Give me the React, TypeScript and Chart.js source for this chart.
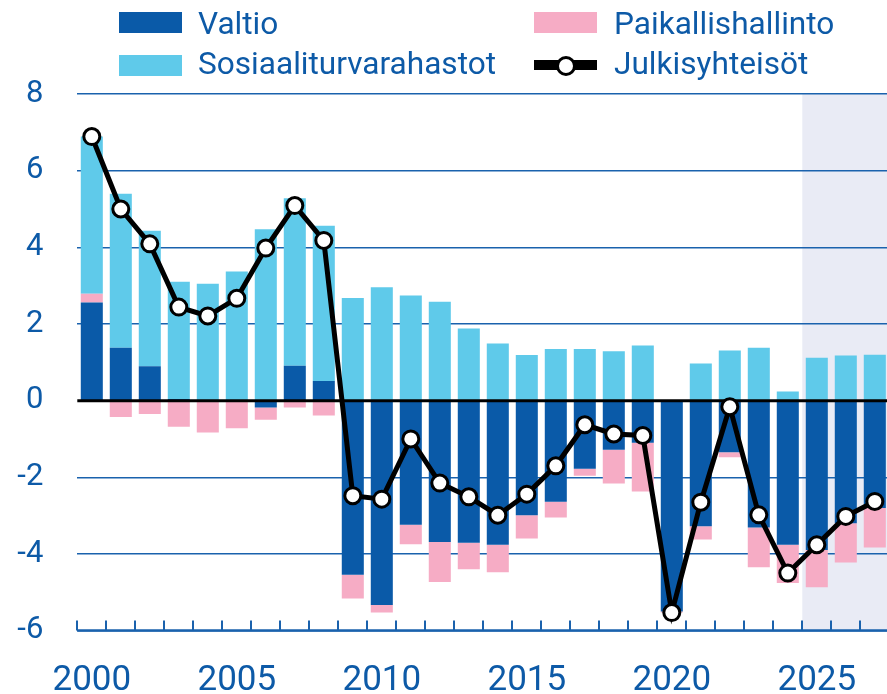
import React, { useEffect, useRef } from 'react';
import { Chart, registerables } from 'chart.js';

Chart.register(...registerables);

const years = ['2000','2001','2002','2003','2004','2005','2006','2007','2008','2009','2010','2011','2012','2013','2014','2015','2016','2017','2018','2019','2020','2021','2022','2023','2024','2025','2026','2027'];
const valtio = [2.56, 1.38, 0.90, 0.04, -0.02, 0.0, -0.18, 0.91, 0.51, -4.54, -5.33, -3.24, -3.69, -3.71, -3.76, -2.99, -2.64, -1.78, -1.28, -1.10, -5.50, -3.28, -1.35, -3.31, -3.76, -3.90, -3.20, -2.80];
const paikallishallinto = [0.23, -0.43, -0.35, -0.68, -0.81, -0.72, -0.32, -0.18, -0.39, -0.62, -0.20, -0.51, -1.04, -0.69, -0.72, -0.61, -0.41, -0.18, -0.88, -1.27, -0.03, -0.34, -0.13, -1.04, -1.00, -0.97, -1.02, -1.03];
const sosiaaliturvarahastot = [4.10, 4.02, 3.53, 3.06, 3.05, 3.37, 4.47, 4.37, 4.05, 2.68, 2.96, 2.74, 2.58, 1.88, 1.49, 1.19, 1.35, 1.35, 1.29, 1.44, 0.0, 0.97, 1.31, 1.38, 0.24, 1.12, 1.18, 1.20];
const julkisyhteisot = [6.89, 5.00, 4.09, 2.44, 2.21, 2.67, 3.98, 5.09, 4.18, -2.48, -2.57, -1.00, -2.15, -2.51, -2.99, -2.44, -1.70, -0.63, -0.87, -0.91, -5.53, -2.65, -0.16, -2.98, -4.50, -3.76, -3.02, -2.63];
const forecastStart = '2025';
const labeledYears = ['2000', '2005', '2010', '2015', '2020', '2025'];
const yMin = -6;
const yMax = 8;
const yStep = 2;

const C_DARK = '#0a5aa8';
const C_LIGHT = '#5fcaea';
const C_PINK = '#f6acc5';
const C_TEXT = '#0d5aa7';
const C_GRID = '#1a62ad';
const C_SHADE = '#e9ebf5';

const FONT = 'Roboto, "Noto Sans", sans-serif';
const CANVAS_W = 892;
const CANVAS_H = 694;
const TARGET_RIGHT = 889.3;

const decorPlugin = {
  id: 'decor',
  beforeDraw(chart: any) {
    const { ctx, chartArea, scales } = chart;
    const x = scales.x;
    const idx = years.indexOf(forecastStart);
    const half = (x.getPixelForValue(1) - x.getPixelForValue(0)) / 2;
    const left = x.getPixelForValue(idx) - half;
    ctx.save();
    ctx.fillStyle = C_SHADE;
    ctx.fillRect(left, chartArea.top, chartArea.right - left, chartArea.bottom - chartArea.top);
    ctx.restore();
  },
  beforeDatasetDraw(chart: any, args: any) {
    if (args.meta.type !== 'line') return;
    const { ctx, chartArea, scales } = chart;
    const y0 = scales.y.getPixelForValue(0);
    ctx.save();
    ctx.strokeStyle = '#000';
    ctx.lineWidth = 3;
    ctx.beginPath();
    ctx.moveTo(chartArea.left, y0);
    ctx.lineTo(chartArea.right, y0);
    ctx.stroke();
    ctx.restore();
  },
  afterDraw(chart: any) {
    const { ctx, chartArea, scales } = chart;
    const x = scales.x;
    const half = (x.getPixelForValue(1) - x.getPixelForValue(0)) / 2;
    ctx.save();
    ctx.strokeStyle = C_GRID;
    ctx.lineWidth = 2.5;
    ctx.beginPath();
    ctx.moveTo(chartArea.left, chartArea.bottom);
    ctx.lineTo(chartArea.right, chartArea.bottom);
    ctx.stroke();
    ctx.lineWidth = 2;
    ctx.beginPath();
    for (let i = 0; i <= years.length; i++) {
      const px = Math.round(x.getPixelForValue(0) - half + i * 2 * half);
      ctx.moveTo(px, chartArea.bottom);
      ctx.lineTo(px, chartArea.bottom - 10);
    }
    ctx.stroke();
    ctx.restore();
  },
};

function Legend() {
  const textStyle: React.CSSProperties = {
    position: 'absolute',
    fontFamily: FONT,
    fontSize: 31.6,
    lineHeight: 1,
    color: C_TEXT,
    whiteSpace: 'nowrap',
  };
  const box = (left: number, top: number, color: string): React.CSSProperties => ({
    position: 'absolute', left, top, width: 63, height: 21, background: color,
  });
  return (
    <div style={{ position: 'absolute', left: 0, top: 0, width: 887, height: 90, pointerEvents: 'none' }}>
      <div style={box(119, 12, C_DARK)} />
      <div style={{ ...textStyle, left: 198, top: 8 }}>Valtio</div>
      <div style={box(119, 55, C_LIGHT)} />
      <div style={{ ...textStyle, left: 198, top: 47.5 }}>Sosiaaliturvarahastot</div>
      <div style={box(534, 12, C_PINK)} />
      <div style={{ ...textStyle, left: 614, top: 8 }}>Paikallishallinto</div>
      <div style={{ position: 'absolute', left: 534, top: 60, width: 63, height: 10, background: '#000' }} />
      <div style={{ position: 'absolute', left: 556, top: 55.5, width: 14, height: 14, borderRadius: '50%', background: '#fff', border: '3px solid #000' }} />
      <div style={{ ...textStyle, left: 614, top: 47.5 }}>Julkisyhteisöt</div>
    </div>
  );
}

export default function App() {
  const canvasRef = useRef<HTMLCanvasElement | null>(null);

  useEffect(() => {
    document.body.style.margin = '0';
    const canvas = canvasRef.current;
    if (!canvas) return;
    const chart: any = new Chart(canvas, {
      type: 'bar',
      data: {
        labels: years,
        datasets: [
          {
            type: 'line',
            label: 'Julkisyhteisöt',
            data: julkisyhteisot,
            stack: 'line',
            order: 0,
            borderColor: '#000',
            borderWidth: 5,
            pointRadius: 8,
            pointHoverRadius: 8,
            pointBorderWidth: 3,
            pointBackgroundColor: '#fff',
            pointBorderColor: '#000',
            tension: 0,
            clip: false,
          } as any,
          {
            label: 'Valtio',
            data: valtio,
            stack: 'bars',
            order: 1,
            backgroundColor: C_DARK,
            barPercentage: 0.76,
            categoryPercentage: 1,
          },
          {
            label: 'Paikallishallinto',
            data: paikallishallinto,
            stack: 'bars',
            order: 1,
            backgroundColor: C_PINK,
            barPercentage: 0.76,
            categoryPercentage: 1,
          },
          {
            label: 'Sosiaaliturvarahastot',
            data: sosiaaliturvarahastot,
            stack: 'bars',
            order: 1,
            backgroundColor: C_LIGHT,
            barPercentage: 0.76,
            categoryPercentage: 1,
          },
        ],
      },
      options: {
        animation: false,
        responsive: false,
        maintainAspectRatio: false,
        devicePixelRatio: 1,
        layout: { autoPadding: false, padding: { top: 94, right: CANVAS_W - TARGET_RIGHT, left: 0, bottom: 0 } },
        plugins: {
          legend: { display: false },
          tooltip: { enabled: false },
        },
        scales: {
          x: {
            stacked: true,
            offset: true,
            grid: { display: false, drawTicks: false },
            border: { display: false },
            ticks: {
              autoSkip: false,
              maxRotation: 0,
              padding: 30,
              color: C_TEXT,
              font: { family: FONT, size: 35 },
              callback: (_v: any, i: number) => (labeledYears.includes(years[i]) ? years[i] : ''),
            },
            afterFit: (s: any) => {
              s.height = 694 - 630.6;
              s.paddingLeft = 0;
              s.paddingRight = 0;
            },
          },
          y: {
            stacked: true,
            min: yMin,
            max: yMax,
            ticks: {
              stepSize: yStep,
              padding: 34,
              color: C_TEXT,
              font: { family: FONT, size: 31 },
            },
            grid: {
              drawTicks: false,
              color: (c: any) => (c.tick && c.tick.value === 0 ? 'rgba(0,0,0,0)' : C_GRID),
              lineWidth: 1.5,
            },
            border: { display: false },
            afterFit: (s: any) => {
              s.width = 77.3;
              s.paddingTop = 0;
              s.paddingBottom = 0;
            },
          },
        },
      },
      plugins: [decorPlugin],
    });
    return () => chart.destroy();
  }, []);

  return (
    <div style={{ position: 'relative', width: 887, height: 694, overflow: 'hidden', background: '#fff' }}>
      <canvas
        ref={canvasRef}
        width={CANVAS_W}
        height={CANVAS_H}
        style={{ position: 'absolute', left: 0, top: 0, width: CANVAS_W, height: CANVAS_H }}
      />
      <Legend />
    </div>
  );
}
